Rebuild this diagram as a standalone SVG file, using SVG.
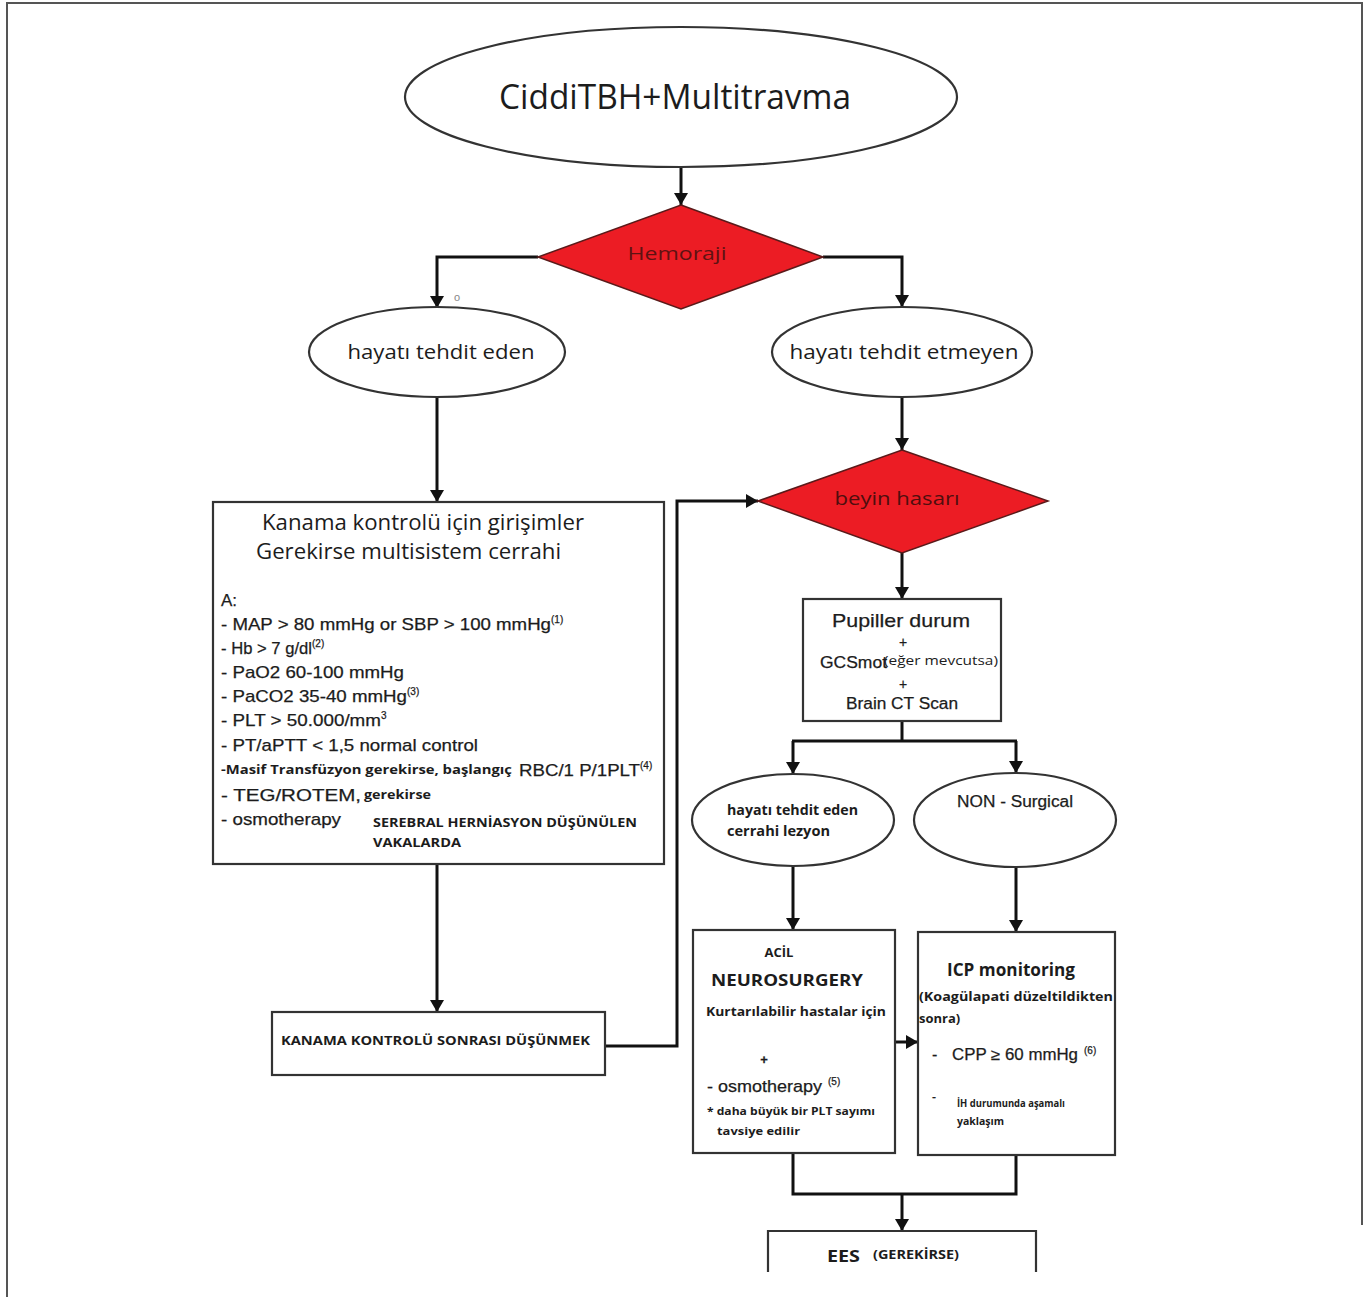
<svg xmlns="http://www.w3.org/2000/svg" width="1366" height="1297" viewBox="0 0 1366 1297">
<defs>
<marker id="ah" viewBox="0 0 12 14" markerWidth="12" markerHeight="14" refX="12" refY="7" orient="auto" markerUnits="userSpaceOnUse">
<path d="M0,0 L12,7 L0,14 Z" fill="#111"/>
</marker>
</defs>
<style>
.shape{fill:#fff;stroke:#333;stroke-width:2.2}
.dia{fill:#ec1c24;stroke:#5a1a1a;stroke-width:1.5}
.con{fill:none;stroke:#111;stroke-width:3}
.arr{fill:none;stroke:#111;stroke-width:3;marker-end:url(#ah)}
.cal{font-family:"Open Sans","Noto Sans",sans-serif;fill:#1c1c1c}
.ar{font-family:"Liberation Sans",Arial,sans-serif;fill:#1c1c1c;stroke:#1c1c1c;stroke-width:0.25}
.b{font-weight:bold}
.sup{font-size:10px}
</style>
<rect width="1366" height="1297" fill="#fff"/>
<path d="M7,1297 V3 H1362 V1225" fill="none" stroke="#555" stroke-width="2"/>

<g id="connectors">
<line class="arr" x1="681" y1="167" x2="681" y2="205"/>
<polyline class="arr" points="538,257 437,257 437,308"/>
<polyline class="arr" points="823,257 902,257 902,307"/>
<line class="arr" x1="437" y1="398" x2="437" y2="502"/>
<line class="arr" x1="902" y1="398" x2="902" y2="450"/>
<line class="arr" x1="437" y1="864" x2="437" y2="1012"/>
<polyline class="arr" points="605,1046 677,1046 677,501 758,501"/>
<line class="arr" x1="902" y1="553" x2="902" y2="599"/>
<polyline class="con" points="902,721 902,741"/>
<polyline class="arr" points="793,741 793,774"/>
<polyline class="arr" points="1016,741 1016,773"/>
<line class="con" x1="792" y1="741" x2="1017" y2="741"/>
<line class="arr" x1="793" y1="866" x2="793" y2="930"/>
<line class="arr" x1="1016" y1="867" x2="1016" y2="932"/>
<line class="arr" x1="895" y1="1042" x2="918" y2="1042"/>
<polyline class="con" points="793,1153 793,1194 1016,1194 1016,1155"/>
<line class="arr" x1="902" y1="1194" x2="902" y2="1231"/>
</g>

<g id="n-top">
<ellipse class="shape" cx="681" cy="97" rx="276" ry="70"/>
<text class="cal" x="675" y="109" font-size="34" text-anchor="middle" textLength="352" lengthAdjust="spacingAndGlyphs">CiddiTBH+Multitravma</text>
</g>

<g id="n-hemoraji">
<polygon class="dia" points="681,205 823,257 681,309 538,257"/>
<text class="cal" x="677" y="260" font-size="18" style="fill:#5e1212" text-anchor="middle" textLength="99" lengthAdjust="spacingAndGlyphs">Hemoraji</text>
<text class="ar" x="457" y="301" font-size="11" style="fill:#888;stroke:none" text-anchor="middle">o</text>
</g>

<g id="n-tehdit">
<ellipse class="shape" cx="437" cy="352" rx="128" ry="45"/>
<text class="cal" x="441" y="359" font-size="20" text-anchor="middle" textLength="187" lengthAdjust="spacingAndGlyphs">hayatı tehdit eden</text>
</g>

<g id="n-etmeyen">
<ellipse class="shape" cx="902" cy="352" rx="130" ry="45"/>
<text class="cal" x="904" y="359" font-size="20" text-anchor="middle" textLength="229" lengthAdjust="spacingAndGlyphs">hayatı tehdit etmeyen</text>
</g>

<g id="n-kanama">
<rect class="shape" x="213" y="502" width="451" height="362"/>
<text class="cal" x="262" y="530" font-size="21" textLength="322" lengthAdjust="spacingAndGlyphs">Kanama kontrolü için girişimler</text>
<text class="cal" x="256" y="559" font-size="21" textLength="305" lengthAdjust="spacingAndGlyphs">Gerekirse multisistem cerrahi</text>
<text class="ar" x="221" y="606" font-size="17">A:</text>
<text class="ar" x="221" y="630" font-size="17"><tspan textLength="330" lengthAdjust="spacingAndGlyphs">- MAP &gt; 80 mmHg or SBP &gt; 100 mmHg</tspan><tspan class="sup" dy="-7">(1)</tspan></text>
<text class="ar" x="221" y="654" font-size="17"><tspan textLength="91" lengthAdjust="spacingAndGlyphs">- Hb &gt; 7 g/dl</tspan><tspan class="sup" dy="-7">(2)</tspan></text>
<text class="ar" x="221" y="678" font-size="17" textLength="183" lengthAdjust="spacingAndGlyphs">- PaO2 60-100 mmHg</text>
<text class="ar" x="221" y="702" font-size="17"><tspan textLength="186" lengthAdjust="spacingAndGlyphs">- PaCO2 35-40 mmHg</tspan><tspan class="sup" dy="-7">(3)</tspan></text>
<text class="ar" x="221" y="726" font-size="17"><tspan textLength="160" lengthAdjust="spacingAndGlyphs">- PLT &gt; 50.000/mm</tspan><tspan class="sup" dy="-7">3</tspan></text>
<text class="ar" x="221" y="751" font-size="17" textLength="257" lengthAdjust="spacingAndGlyphs">- PT/aPTT &lt; 1,5 normal control</text>
<text class="cal b" x="221" y="774" font-size="11.5" textLength="291" lengthAdjust="spacingAndGlyphs">-Masif Transfüzyon gerekirse, başlangıç</text>
<text class="ar" x="519" y="776" font-size="17"><tspan textLength="121" lengthAdjust="spacingAndGlyphs">RBC/1 P/1PLT</tspan><tspan class="sup" dy="-7">(4)</tspan></text>
<text class="ar" x="221" y="801" font-size="17" textLength="140" lengthAdjust="spacingAndGlyphs">- TEG/ROTEM,</text>
<text class="cal b" x="364" y="799" font-size="12" textLength="67" lengthAdjust="spacingAndGlyphs">gerekirse</text>
<text class="ar" x="221" y="825" font-size="17" textLength="120" lengthAdjust="spacingAndGlyphs">- osmotherapy</text>
<text class="cal b" x="373" y="827" font-size="12.5" textLength="264" lengthAdjust="spacingAndGlyphs">SEREBRAL HERNİASYON DÜŞÜNÜLEN</text>
<text class="cal b" x="373" y="847" font-size="12.5" textLength="88" lengthAdjust="spacingAndGlyphs">VAKALARDA</text>
</g>

<g id="n-sonrasi">
<rect class="shape" x="272" y="1012" width="333" height="63"/>
<text class="cal b" x="281" y="1045" font-size="13" textLength="309" lengthAdjust="spacingAndGlyphs">KANAMA KONTROLÜ SONRASI DÜŞÜNMEK</text>
</g>

<g id="n-beyin">
<polygon class="dia" points="902,450 1048,501 902,553 758,501"/>
<text class="cal" x="897" y="505" font-size="18" style="fill:#4e0e0e" text-anchor="middle" textLength="125" lengthAdjust="spacingAndGlyphs">beyin hasarı</text>
</g>

<g id="n-pupiller">
<rect class="shape" x="803" y="599" width="198" height="122"/>
<text class="ar" x="901" y="627" font-size="19" text-anchor="middle" textLength="138" lengthAdjust="spacingAndGlyphs">Pupiller durum</text>
<text class="ar" x="903" y="647" font-size="14" text-anchor="middle">+</text>
<text class="ar" x="820" y="668" font-size="16" textLength="67" lengthAdjust="spacingAndGlyphs">GCSmot</text>
<text class="cal" x="884" y="665" font-size="13" textLength="114" lengthAdjust="spacingAndGlyphs">(eğer mevcutsa)</text>
<text class="ar" x="903" y="689" font-size="14" text-anchor="middle">+</text>
<text class="ar" x="902" y="709" font-size="16" text-anchor="middle" textLength="112" lengthAdjust="spacingAndGlyphs">Brain CT Scan</text>
</g>

<g id="n-cerrahi">
<ellipse class="shape" cx="793" cy="820" rx="101" ry="46"/>
<text class="cal b" x="727" y="815" font-size="14" textLength="131" lengthAdjust="spacingAndGlyphs">hayatı tehdit eden</text>
<text class="cal b" x="727" y="836" font-size="14" textLength="103" lengthAdjust="spacingAndGlyphs">cerrahi lezyon</text>
</g>

<g id="n-nonsurg">
<ellipse class="shape" cx="1015" cy="820" rx="101" ry="47"/>
<text class="ar" x="1015" y="807" font-size="16" text-anchor="middle" textLength="116" lengthAdjust="spacingAndGlyphs">NON - Surgical</text>
</g>

<g id="n-acil">
<rect class="shape" x="693" y="930" width="202" height="223"/>
<text class="cal b" x="779" y="957" font-size="13" text-anchor="middle">ACİL</text>
<text class="cal b" x="711" y="986" font-size="16" textLength="152" lengthAdjust="spacingAndGlyphs">NEUROSURGERY</text>
<text class="cal b" x="706" y="1016" font-size="13" textLength="180" lengthAdjust="spacingAndGlyphs">Kurtarılabilir hastalar için</text>
<text class="ar b" x="764" y="1064" font-size="13" text-anchor="middle">+</text>
<text class="ar" x="707" y="1092" font-size="17"><tspan textLength="115" lengthAdjust="spacingAndGlyphs">- osmotherapy</tspan><tspan class="sup" dx="6" dy="-7">(5)</tspan></text>
<text class="cal b" x="707" y="1115" font-size="11" textLength="168" lengthAdjust="spacingAndGlyphs">* daha büyük bir PLT sayımı</text>
<text class="cal b" x="717" y="1135" font-size="11" textLength="83" lengthAdjust="spacingAndGlyphs">tavsiye edilir</text>
</g>

<g id="n-icp">
<rect class="shape" x="918" y="932" width="197" height="223"/>
<text class="cal b" x="947" y="976" font-size="17" textLength="128" lengthAdjust="spacingAndGlyphs">ICP monitoring</text>
<text class="cal b" x="919" y="1001" font-size="13" textLength="194" lengthAdjust="spacingAndGlyphs">(Koagülapati düzeltildikten</text>
<text class="cal b" x="919" y="1023" font-size="13">sonra)</text>
<text class="ar" x="932" y="1060" font-size="16">-</text>
<text class="ar" x="952" y="1060" font-size="16"><tspan textLength="126" lengthAdjust="spacingAndGlyphs">CPP ≥ 60 mmHg</tspan><tspan class="sup" dx="6" dy="-6">(6)</tspan></text>
<text class="ar" x="932" y="1101" font-size="12">-</text>
<text class="cal b" x="957" y="1107" font-size="10.5" textLength="108" lengthAdjust="spacingAndGlyphs">İH durumunda aşamalı</text>
<text class="cal b" x="957" y="1125" font-size="10.5">yaklaşım</text>
</g>

<g id="n-ees">
<path class="shape" d="M768,1272 V1231 H1036 V1272" fill="none"/>
<text class="cal b" x="827" y="1262" font-size="16" textLength="33" lengthAdjust="spacingAndGlyphs">EES</text>
<text class="cal b" x="873" y="1259" font-size="12" textLength="86" lengthAdjust="spacingAndGlyphs">(GEREKİRSE)</text>
</g>
</svg>
